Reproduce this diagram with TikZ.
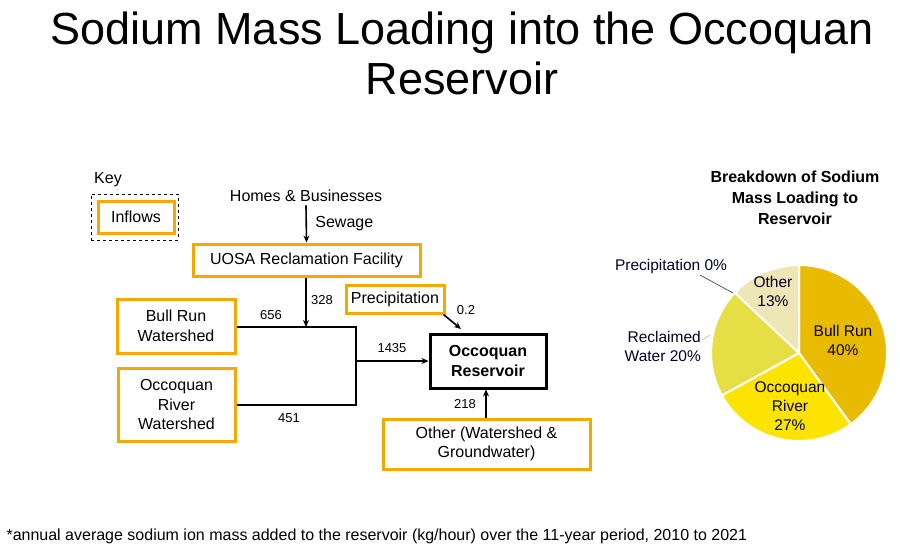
\documentclass[tikz,border=0pt]{standalone}
\usepackage{fontspec}
\setmainfont{Liberation Sans}
\usetikzlibrary{arrows.meta}
\definecolor{org}{HTML}{F7A800}
\definecolor{cBR}{HTML}{E8BA00}
\definecolor{cOR}{HTML}{FCE300}
\definecolor{cRW}{HTML}{E6DE45}
\definecolor{cOT}{HTML}{EEE6B4}
\tikzset{
 inbox/.style={draw=org,line width=3pt,inner sep=0pt,align=center,font=\fontsize{16}{19.5}\selectfont},
 lbl/.style={font=\fontsize{13}{15}\selectfont,inner sep=0pt},
 flow/.style={line width=1.6pt,-{Stealth[length=7pt,width=6pt]}},
 ln/.style={line width=1.6pt},
 pl/.style={font=\fontsize{15.5}{19}\selectfont,align=center,inner sep=0pt,text=black!85!blue}
}
\begin{document}
\begin{tikzpicture}[x=1pt,y=-1pt]
\useasboundingbox (0,0) rectangle (900,547);
\node[font=\fontsize{45}{50}\selectfont,align=center] (title) at (462,53) {Sodium Mass Loading into the Occoquan\\Reservoir};
% key
\node[font=\fontsize{16}{18}\selectfont] (key) at (108,180) {Key};
\node[draw,dashed,minimum width=87pt,minimum height=46pt] (keybox) at (134.5,217) {};
\node[inbox,minimum width=76pt,minimum height=32pt] (inflows) at (136,217) {Inflows};
% flow
\node[font=\fontsize{16}{18}\selectfont] (homes) at (306,196) {Homes \& Businesses};
\node[inbox,minimum width=227pt,minimum height=32pt] (uosa) at (306.5,260) {UOSA Reclamation Facility};
\draw[flow] (homes.south) -- (uosa.north) node[midway,right=5pt,font=\fontsize{16}{18}\selectfont] (sew) {Sewage};
\node[inbox,minimum width=98pt,minimum height=28pt] (prec) at (395,299) {Precipitation};
\node[inbox,minimum width=118pt,minimum height=54pt] (br) at (176,326) {Bull Run\\Watershed};
\node[inbox,minimum width=117pt,minimum height=73pt] (orw) at (176.5,404.5) {Occoquan\\River\\Watershed};
\node[draw,line width=3pt,minimum width=116pt,minimum height=54pt,align=center,font=\bfseries\fontsize{16}{20}\selectfont,inner sep=0pt] (res) at (488,361) {Occoquan\\Reservoir};
\node[inbox,minimum width=207pt,minimum height=50pt] (oth) at (486.5,444) {Other (Watershed \&\\Groundwater)};
\coordinate (j1) at (306,327);
\coordinate (c1) at (356,327);
\coordinate (c2) at (356,405);
\coordinate (c3) at (356,361);
\draw[flow] (uosa.south -| j1) -- (j1);
\draw[ln] (br.east |- c1) -- (c1) -- (c2) -- (orw.east |- c2);
\draw[flow] (c3) -- (res.west |- c3);
\draw[flow] (prec.south east) ++(-2,0) coordinate (p0) -- (461,329) coordinate (p1);
\draw[flow] (oth.north -| 486,0) -- (res.south -| 486,0);
\node[lbl] (n656) at (271,315) {656};
\node[lbl] (n328) at (322,300) {328};
\node[lbl] (n02) at (466,310) {0.2};
\node[lbl] (n1435) at (392,348) {1435};
\node[lbl] (n451) at (289,418) {451};
\node[lbl] (n218) at (465,404) {218};
% pie
\node[font=\bfseries\fontsize{16}{21}\selectfont,align=center] (ptitle) at (795,198) {Breakdown of Sodium\\Mass Loading to\\Reservoir};
\coordinate (pc) at (799,353);
\begin{scope}[line width=2pt]
\fill[cBR,draw=white] (pc) -- +(-90:88) arc[start angle=-90,end angle=54,radius=88] -- cycle;
\fill[cOR,draw=white] (pc) -- +(54:88) arc[start angle=54,end angle=151.2,radius=88] -- cycle;
\fill[cRW,draw=white] (pc) -- +(151.2:88) arc[start angle=151.2,end angle=223.2,radius=88] -- cycle;
\fill[cOT,draw=white] (pc) -- +(-136.8:88) arc[start angle=-136.8,end angle=-90,radius=88] -- cycle;
\end{scope}
\node[pl] (pbr) at (843,340) {Bull Run\\40\%};
\node[pl] (por) at (790,406) {Occoquan\\River\\27\%};
\node[pl] (pot) at (773,291) {Other\\13\%};
\node[pl,align=right,anchor=east] (prw) at (701,346) {Reclaimed\\Water 20\%};
\node[pl] (ppr) at (671,266) {Precipitation 0\%};
\coordinate (pp) at (733,293);
\draw[black!80,line width=0.6pt] (700,275) -- (pp);
\draw[black!30,line width=0.6pt] (702,340) -- (710,335);
\node[anchor=west,font=\fontsize{16}{18}\selectfont] (foot) at (3,536) {*annual average sodium ion mass added to the reservoir (kg/hour) over the 11-year period, 2010 to 2021};
\end{tikzpicture}
\end{document}
